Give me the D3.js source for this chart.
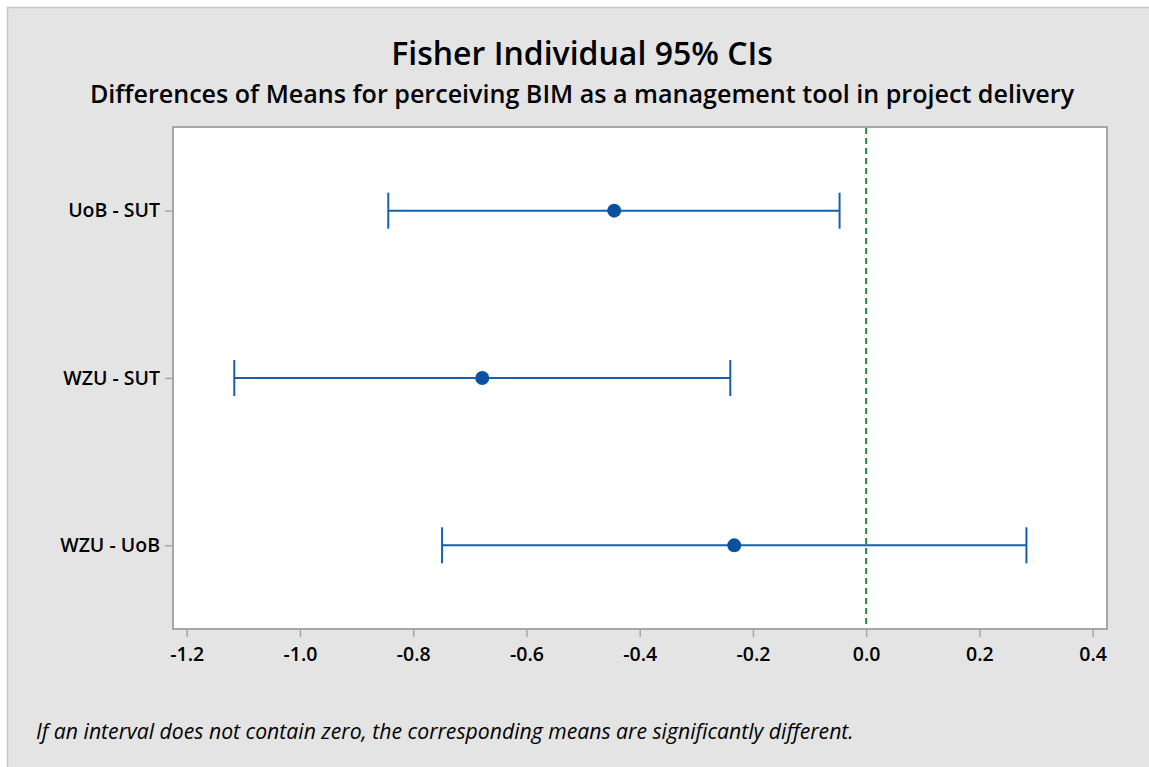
<!DOCTYPE html>
<html>
<head>
<meta charset="utf-8">
<script src="https://cdn.jsdelivr.net/npm/d3@7"></script>
<style>
  html, body { margin: 0; padding: 0; background: #ffffff; }
  svg { display: block; }
  text { font-family: "Open Sans", "Noto Sans", sans-serif; fill: #000; }
</style>
</head>
<body>
<script>
// ---- data ----
const comparisons = ["UoB - SUT", "WZU - SUT", "WZU - UoB"];
const means = [-0.445, -0.678, -0.233];
const lowers = [-0.844, -1.116, -0.749];
const uppers = [-0.047, -0.240, 0.283];
const xTicks = [-1.2, -1.0, -0.8, -0.6, -0.4, -0.2, 0.0, 0.2, 0.4];
const titleText = "Fisher Individual 95% CIs";
const subtitleText = "Differences of Means for perceiving BIM as a management tool in project delivery";
const footnoteText = "If an interval does not contain zero, the corresponding means are significantly different.";

const W = 1149, H = 767;
const svg = d3.select("body").append("svg").attr("width", W).attr("height", H);

// outer panel
svg.append("rect").attr("x", 7.5).attr("y", 7.5).attr("width", W).attr("height", H)
  .attr("fill", "#e4e4e4").attr("stroke", "#c6c6c6").attr("stroke-width", 1.5);

const plot = { left: 173, top: 127, right: 1107, bottom: 629 };

const x = d3.scaleLinear().domain([-1.2242, 0.4253]).range([plot.left, plot.right]);
const y = d3.scalePoint().domain(comparisons).range([plot.top, plot.bottom]).padding(0.5);

// plot area
svg.append("rect").attr("x", plot.left).attr("y", plot.top)
  .attr("width", plot.right - plot.left).attr("height", plot.bottom - plot.top)
  .attr("fill", "#ffffff").attr("stroke", "#a6a6a6").attr("stroke-width", 2);

// x axis
const xAxis = svg.append("g").attr("transform", `translate(0,${plot.bottom})`)
  .call(d3.axisBottom(x).tickValues(xTicks).tickFormat(d3.format(".1f")).tickSize(8).tickPadding(10));
xAxis.select(".domain").remove();
xAxis.selectAll(".tick line").attr("stroke", "#a6a6a6").attr("stroke-width", 1.5);
xAxis.selectAll(".tick text").attr("font-size", 19.5).attr("font-weight", 600)
  .style("font-family", "'Open Sans', sans-serif").attr("fill", "#000")
  .text(d => d3.format(".1f")(d).replace("−", "-"));

// y axis
const yAxis = svg.append("g").attr("transform", `translate(${plot.left},0)`)
  .call(d3.axisLeft(y).tickSize(8).tickPadding(5));
yAxis.select(".domain").remove();
yAxis.selectAll(".tick line").attr("stroke", "#a6a6a6").attr("stroke-width", 1.5);
yAxis.selectAll(".tick text").attr("font-size", 19.5).attr("font-weight", 600)
  .style("font-family", "'Open Sans', sans-serif").attr("fill", "#000");

// zero reference line
svg.append("line").attr("x1", x(0)).attr("x2", x(0))
  .attr("y1", plot.top + 1).attr("y2", plot.bottom - 1)
  .attr("stroke", "#1e8c2e").attr("stroke-width", 2).attr("stroke-dasharray", "6,4");

// intervals
const blue = "#1560ac";
const capH = 18;
const rows = comparisons.map((c, i) => ({ c, m: means[i], lo: lowers[i], hi: uppers[i] }));
const g = svg.append("g");
g.selectAll("line.ci").data(rows).join("line").attr("class", "ci")
  .attr("x1", d => x(d.lo)).attr("x2", d => x(d.hi))
  .attr("y1", d => y(d.c)).attr("y2", d => y(d.c))
  .attr("stroke", blue).attr("stroke-width", 2);
g.selectAll("line.caplo").data(rows).join("line").attr("class", "caplo")
  .attr("x1", d => x(d.lo)).attr("x2", d => x(d.lo))
  .attr("y1", d => y(d.c) - capH).attr("y2", d => y(d.c) + capH)
  .attr("stroke", blue).attr("stroke-width", 2);
g.selectAll("line.caphi").data(rows).join("line").attr("class", "caphi")
  .attr("x1", d => x(d.hi)).attr("x2", d => x(d.hi))
  .attr("y1", d => y(d.c) - capH).attr("y2", d => y(d.c) + capH)
  .attr("stroke", blue).attr("stroke-width", 2);
g.selectAll("circle").data(rows).join("circle")
  .attr("cx", d => x(d.m)).attr("cy", d => y(d.c)).attr("r", 7)
  .attr("fill", "#0a52a0");

// titles
svg.append("text").attr("x", 582).attr("y", 65).attr("text-anchor", "middle")
  .attr("font-size", 32).attr("font-weight", 600).text(titleText);
svg.append("text").attr("x", 582).attr("y", 103).attr("text-anchor", "middle")
  .attr("font-size", 25.1).attr("font-weight", 600).text(subtitleText);

// footnote
svg.append("text").attr("x", 36).attr("y", 739)
  .attr("font-size", 21.2).attr("font-style", "italic").text(footnoteText);
</script>
</body>
</html>
